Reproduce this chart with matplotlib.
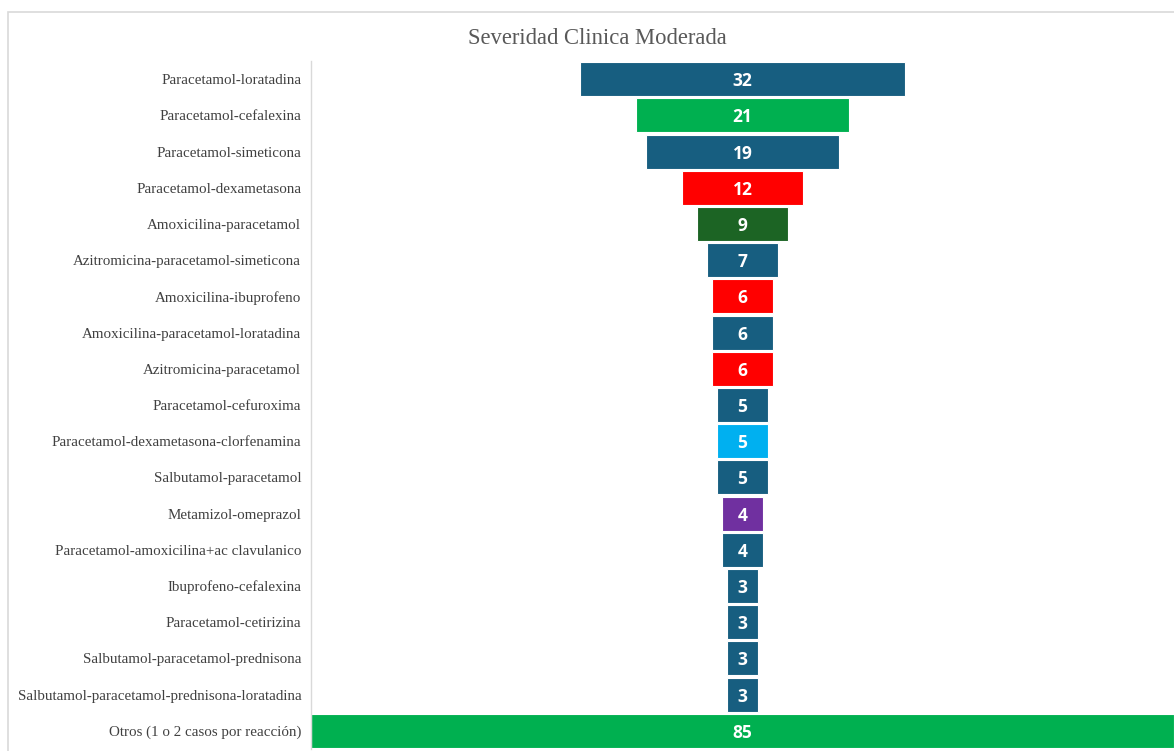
import matplotlib
matplotlib.use("Agg")
import matplotlib.pyplot as plt
from matplotlib.patches import Rectangle

categories = [
    "Paracetamol-loratadina",
    "Paracetamol-cefalexina",
    "Paracetamol-simeticona",
    "Paracetamol-dexametasona",
    "Amoxicilina-paracetamol",
    "Azitromicina-paracetamol-simeticona",
    "Amoxicilina-ibuprofeno",
    "Amoxicilina-paracetamol-loratadina",
    "Azitromicina-paracetamol",
    "Paracetamol-cefuroxima",
    "Paracetamol-dexametasona-clorfenamina",
    "Salbutamol-paracetamol",
    "Metamizol-omeprazol",
    "Paracetamol-amoxicilina+ac clavulanico",
    "Ibuprofeno-cefalexina",
    "Paracetamol-cetirizina",
    "Salbutamol-paracetamol-prednisona",
    "Salbutamol-paracetamol-prednisona-loratadina",
    "Otros (1 o 2 casos por reacción)",
]
values = [32, 21, 19, 12, 9, 7, 6, 6, 6, 5, 5, 5, 4, 4, 3, 3, 3, 3, 85]

BLUE = "#175E80"
GREEN = "#00B050"
RED = "#FF0000"
DKGREEN = "#1C6424"
LTBLUE = "#00B0F0"
PURPLE = "#7030A0"
colors = [BLUE, GREEN, BLUE, RED, DKGREEN, BLUE, RED, BLUE, RED, BLUE,
          LTBLUE, BLUE, PURPLE, BLUE, BLUE, BLUE, BLUE, BLUE, GREEN]

W, H = 1174, 751
fig = plt.figure(figsize=(W / 100, H / 100), dpi=100)
fig.patch.set_facecolor("white")

# outer border
fig.patches.append(Rectangle((8 / W, -0.01), 1.02, 1 - 12 / H + 0.01,
                             transform=fig.transFigure, fill=False,
                             edgecolor="#D9D9D9", linewidth=1.2))

ax = fig.add_axes([311 / W, 2 / H, 1 - 311 / W, (749 - 61) / H])
n = len(categories)
y = list(range(n))
lefts = [-v / 2 for v in values]
ax.barh(y, values, left=lefts, height=0.94, color=colors,
        edgecolor="white", linewidth=0.8)
for yi, v in zip(y, values):
    ax.text(0, yi, str(v), ha="center", va="center_baseline", color="white",
            fontsize=12.5, fontweight="bold", family="Open Sans")

ax.set_xlim(-42.5, 42.5)
ax.set_ylim(n - 0.5, -0.5)
ax.set_yticks(y)
ax.set_yticklabels(categories, family="Liberation Serif", fontsize=10.8,
                   color="#404040")
ax.tick_params(axis="y", length=0, pad=7)
ax.set_xticks([])
for s in ["top", "right", "bottom"]:
    ax.spines[s].set_visible(False)
ax.spines["left"].set_color("#D9D9D9")
ax.spines["left"].set_linewidth(1)

fig.text(597 / W, 1 - 39 / H, "Severidad Clinica Moderada", ha="center",
         va="center", family="Liberation Serif", fontsize=16.3, color="#595959")

fig.savefig("out.png", dpi=100)
